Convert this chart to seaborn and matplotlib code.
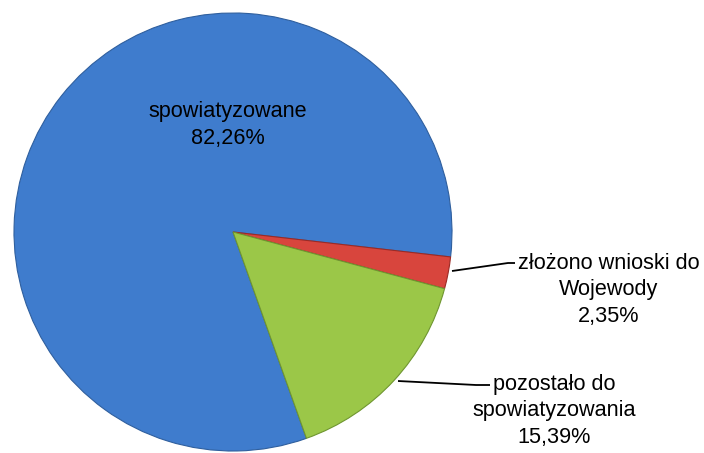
import matplotlib
matplotlib.use("Agg")
import matplotlib.pyplot as plt
import seaborn as sns

# dane
kategorie = ["spowiatyzowane", "złożono wnioski do\nWojewody", "pozostało do\nspowiatyzowania"]
udzialy = [82.26, 2.35, 15.39]
etykiety_proc = ["82,26%", "2,35%", "15,39%"]
kolory = ["#3f7ccd", "#d8453d", "#9bc748"]

sns.set_theme(style="white")
plt.rcParams["font.family"] = ["Liberation Sans", "DejaVu Sans"]

fig = plt.figure(figsize=(7.04, 4.53), dpi=100)
ax = fig.add_axes([0, 0, 1, 1])

wedges, _ = ax.pie(udzialy, colors=kolory, startangle=-70.4, counterclock=False,
                   radius=1.0, center=(0, 0),
                   wedgeprops=dict(edgecolor="#2f5f9e", linewidth=0.8))
wedges[1].set_edgecolor("#9c2a25")
wedges[2].set_edgecolor("#6f9630")

# skala w pikselach: srodek (233, 232), promien 219
r = 219.0
ax.set_xlim(-233 / r, (704 - 233) / r)
ax.set_ylim(-(453 - 232) / r, 232 / r)
ax.set_aspect("auto")
ax.axis("off")


def px(x, y):
    return (x - 233) / r, (232 - y) / r


fs = 15.6
ls = 1.32
ax.text(*px(228, 125), kategorie[0] + "\n" + etykiety_proc[0], ha="center", va="center",
        fontsize=fs, color="black", linespacing=ls)
ax.text(*px(609, 290), kategorie[1] + "\n" + etykiety_proc[1], ha="center", va="center",
        fontsize=fs, color="black", linespacing=ls)
ax.text(*px(554, 411), kategorie[2] + "\n" + etykiety_proc[2], ha="center", va="center",
        fontsize=fs, color="black", linespacing=ls)

# linie odniesienia
l1 = [px(452, 271), px(508, 263), px(515, 263)]
ax.plot([p[0] for p in l1], [p[1] for p in l1], color="black", lw=1.3, solid_capstyle="butt")
l2 = [px(398, 381), px(476, 385), px(490, 385)]
ax.plot([p[0] for p in l2], [p[1] for p in l2], color="black", lw=1.3, solid_capstyle="butt")

fig.savefig("out.png", dpi=100, facecolor="white")
